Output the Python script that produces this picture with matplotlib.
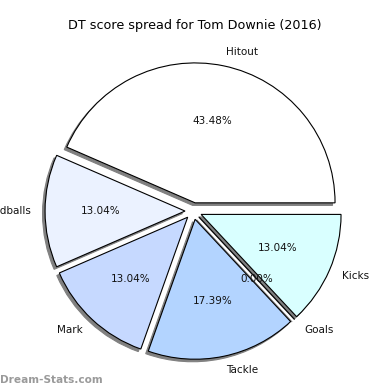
import matplotlib
matplotlib.use("Agg")
import matplotlib.pyplot as plt

categories = ["Hitout", "Handballs", "Mark", "Tackle", "Goals", "Kicks"]
points = [10, 3, 3, 4, 0, 3]
colors = ["#ffffff", "#ebf2ff", "#c6d9ff", "#b3d4ff", "#c2e6ff", "#d9ffff"]
explode = [0.06, 0.06, 0.06, 0.06, 0.06, 0.06]

fig = plt.figure(figsize=(3.9, 3.9), dpi=100)
ax = fig.add_axes([0.0474, 0.0103, 0.897, 0.897])
ax.pie(points, labels=categories, colors=colors, explode=explode,
       autopct="%.2f%%", startangle=0,
       shadow={"ox": -0.013, "oy": -0.013, "facecolor": "#808080",
               "edgecolor": "#808080", "alpha": 1.0},
       wedgeprops=dict(edgecolor="black", linewidth=0.8),
       textprops=dict(fontsize=7.5, color="#111111"))
ax.set_xlim(-1.25, 1.25)
ax.set_ylim(-1.25, 1.25)
ax.set_aspect("equal")
fig.text(195 / 390, (390 - 25) / 390, "DT score spread for Tom Downie (2016)",
         fontsize=9.2, ha="center", va="center")
fig.text(0.0, 10 / 390, "Dream-Stats.com", fontsize=7.6, fontweight="bold",
         color="#9a9a9a", ha="left", va="center")
fig.savefig("out.png", dpi=100)
